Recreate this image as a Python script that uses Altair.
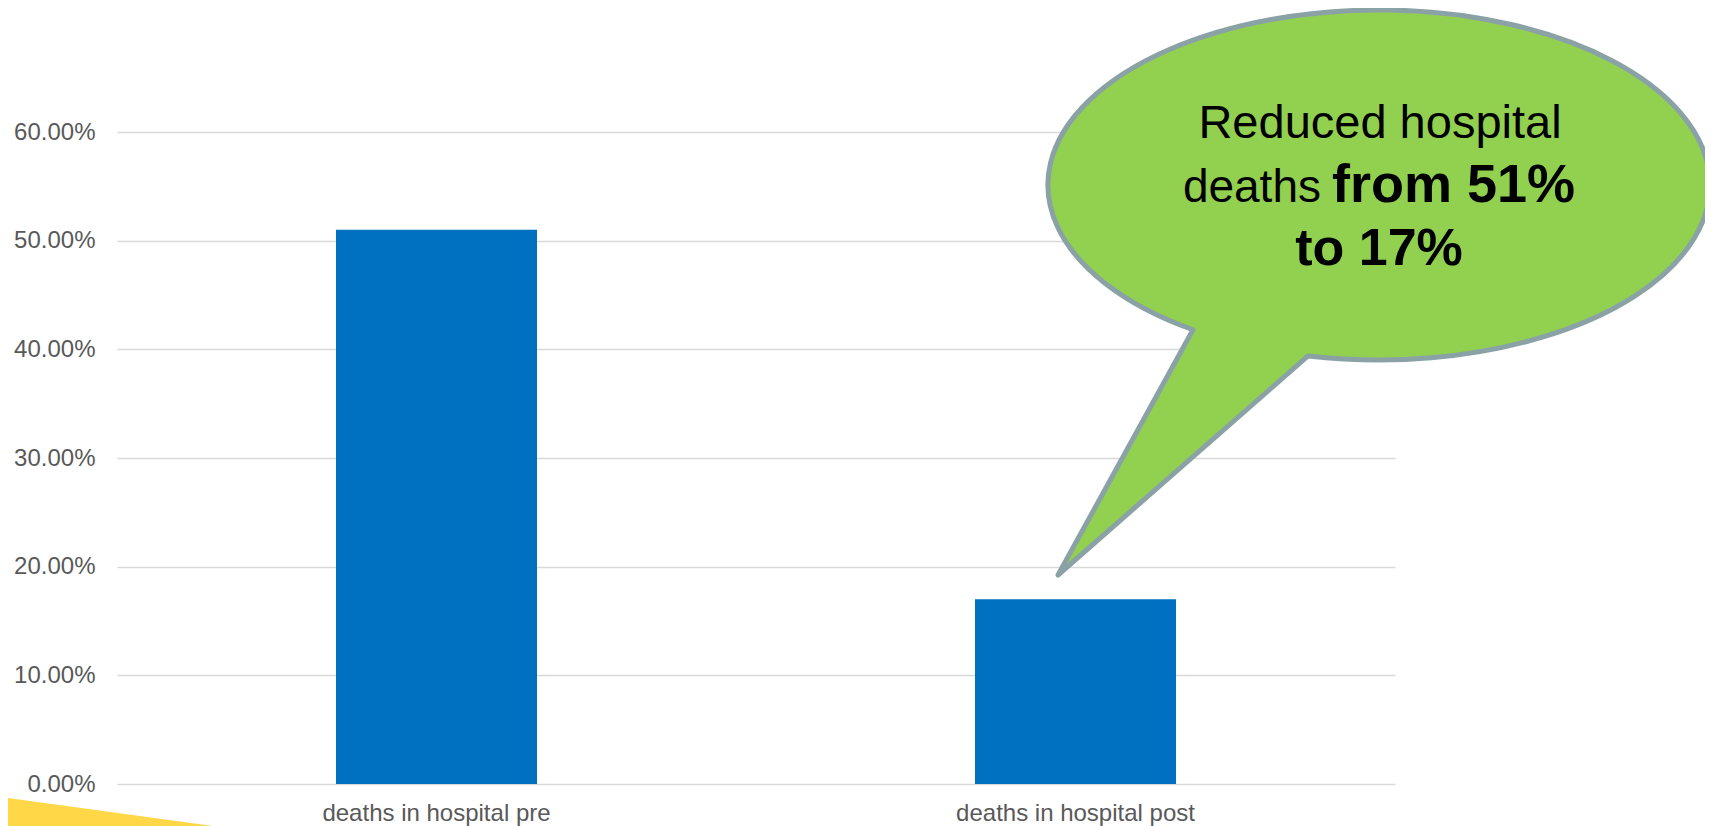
import altair as alt
import pandas as pd

# ---- data ----
categories = ["deaths in hospital pre", "deaths in hospital post"]
values = [0.51, 0.17]
y_ticks = [0, 0.1, 0.2, 0.3, 0.4, 0.5, 0.6]
callout_line1 = ["Reduced hospital"]
callout_line2_regular = ["deaths"]
callout_line2_bold = ["from 51%"]
callout_line3 = ["to 17%"]

FONT = "Liberation Sans"
BAR = "#0070C0"
GREEN = "#92D050"
BORDER = "#8AA2A6"
YELLOW = "#FFD747"

df = pd.DataFrame({"category": categories, "value": values})

base_x = alt.X(
    "category:N",
    sort=categories,
    scale=alt.Scale(paddingInner=0, paddingOuter=0),
    axis=alt.Axis(
        title=None, labelAngle=0, labelFont=FONT, labelFontSize=24,
        labelColor="#595959", labelBaseline="alphabetic", labelPadding=36,
        labelLimit=600, ticks=False, domain=False, grid=False,
    ),
)
base_y = alt.Y(
    "value:Q",
    scale=alt.Scale(domain=[0, 0.6]),
    axis=alt.Axis(
        title=None, values=y_ticks, format=".2%", labelFont=FONT,
        labelFontSize=24, labelColor="#595959", labelPadding=22,
        ticks=False, domain=False, grid=True, gridColor="#D9D9D9",
        gridWidth=1.6,
    ),
)

bars = alt.Chart(df).mark_bar(size=201, color=BAR).encode(x=base_x, y=base_y)

# decorative yellow wedge at bottom-left
yellow_path = "M 0 -0.28 L 2.05 0 L 2.05 0.06 L -0.1 0.06 L -0.1 -0.28 Z"
yellow = alt.Chart(pd.DataFrame({"k": [0]})).mark_point(
    shape=yellow_path, size=40000, filled=True, fill=YELLOW, strokeWidth=0,
    opacity=1, fillOpacity=1,
).encode(x=alt.value(-109), y=alt.value(694))

# speech bubble (ellipse + tail) as a single custom symbol path
bubble_path = (
    "M -0.8025 0.975 L -0.465 0.3619 "
    "A 0.8275 0.4375 0 1 1 -0.1775 0.4273 Z"
)
bubble = alt.Chart(pd.DataFrame({"k": [0]})).mark_point(
    shape=bubble_path, size=640000, filled=True, fill=GREEN, stroke=BORDER,
    strokeWidth=5, strokeJoin="round", opacity=1, fillOpacity=1, strokeOpacity=1,
).encode(x=alt.value(1262), y=alt.value(53))

t1 = alt.Chart(pd.DataFrame({"t": callout_line1})).mark_text(
    font=FONT, fontSize=47, color="black", align="center", baseline="alphabetic"
).encode(text="t:N", x=alt.value(1263), y=alt.value(6))

t2a = alt.Chart(pd.DataFrame({"t": callout_line2_regular})).mark_text(
    font=FONT, fontSize=46, color="black", align="right", baseline="alphabetic"
).encode(text="t:N", x=alt.value(1204), y=alt.value(70))

t2b = alt.Chart(pd.DataFrame({"t": callout_line2_bold})).mark_text(
    font=FONT, fontSize=54, fontWeight="bold", color="black", align="left",
    baseline="alphabetic",
).encode(text="t:N", x=alt.value(1215), y=alt.value(70))

t3 = alt.Chart(pd.DataFrame({"t": callout_line3})).mark_text(
    font=FONT, fontSize=52, fontWeight="bold", color="black", align="center",
    baseline="alphabetic",
).encode(text="t:N", x=alt.value(1262), y=alt.value(133))

chart = (
    alt.layer(yellow, bars, bubble, t1, t2a, t2b, t3)
    .properties(
        width=1278,
        height=652,
        padding={"left": 109, "top": 124, "right": 310, "bottom": 42},
        autosize=alt.AutoSizeParams(type="none"),
        background="white",
    )
    .configure_view(stroke=None)
)

chart.save("out.html", embed_options={"renderer": "svg", "actions": False})
